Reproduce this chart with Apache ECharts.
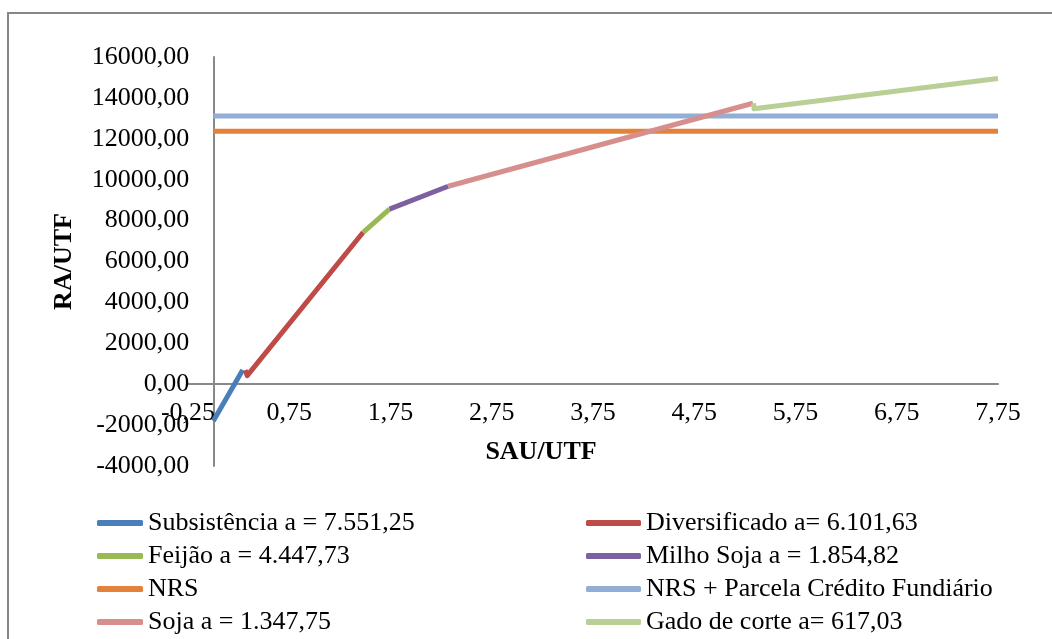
<!DOCTYPE html>
<html lang="pt">
<head>
    <meta charset="utf-8">
    <title>RA/UTF x SAU/UTF</title>
    <script type="text/javascript" src="https://cdn.jsdelivr.net/npm/echarts@6/dist/echarts.min.js"></script>
    <style>
        html, body { margin: 0; padding: 0; background: #fff; }
        #chart { width: 1052px; height: 639px; }
    </style>
</head>
<body>
<div id="chart"></div>
<script type="text/javascript">
    // eixos
    var xTicks = [-0.25, 0.75, 1.75, 2.75, 3.75, 4.75, 5.75, 6.75, 7.75];
    var yTicks = [-4000, -2000, 0, 2000, 4000, 6000, 8000, 10000, 12000, 14000, 16000];

    // segmentos [SAU/UTF, RA/UTF]
    var subsistencia = [[0, -1800], [0.29, 690]];
    var diversificado = [[0.315, 690], [0.335, 420], [1.48, 7430]];
    var feijao = [[1.48, 7430], [1.74, 8560]];
    var milhoSoja = [[1.74, 8560], [2.32, 9680]];
    var nrs = [[0, 12370], [7.75, 12370]];
    var nrsParcela = [[0, 13110], [7.75, 13110]];
    var soja = [[2.32, 9680], [5.33, 13740]];
    var gado = [[5.335, 13740], [5.34, 13470], [7.75, 14950]];

    var names = [
        'Subsistência a = 7.551,25',
        'Diversificado a= 6.101,63',
        'Feijão a = 4.447,73',
        'Milho Soja a = 1.854,82',
        'NRS',
        'NRS + Parcela Crédito Fundiário',
        'Soja a = 1.347,75',
        'Gado de corte a= 617,03'
    ];
    var colors = ['#4A7EBB', '#BE4B48', '#98B954', '#7D60A0', '#E3823B', '#93AED4', '#D68F8D', '#B9CF96'];
    var seriesData = [subsistencia, diversificado, feijao, milhoSoja, nrs, nrsParcela, soja, gado];

    var font = 'Liberation Serif';

    // area do grafico
    var grid = { left: 188, right: 54, top: 57, bottom: 173 };
    var gridW = 1052 - grid.left - grid.right;
    var gridH = 639 - grid.top - grid.bottom;
    var xMin = xTicks[0], xMax = xTicks[xTicks.length - 1];
    var yMin = yTicks[0], yMax = yTicks[yTicks.length - 1];
    // eixos cruzam em zero (rotulos acompanham a linha do eixo)
    var xAxisOffset = -gridH * (0 - yMin) / (yMax - yMin);
    var yAxisOffset = -gridW * (0 - xMin) / (xMax - xMin);

    function fmt(v) {
        return v.toFixed(2).replace('.', ',');
    }

    var series = [];
    for (var i = 0; i < seriesData.length; i++) {
        series.push({
            name: names[i],
            type: 'line',
            data: seriesData[i],
            color: colors[i],
            symbol: 'none',
            lineStyle: { width: 5, color: colors[i], join: 'round' }
        });
    }

    var legendText = { fontFamily: font, fontSize: 26, color: '#000', lineHeight: 26 };

    var chart = echarts.init(document.getElementById('chart'), null, { renderer: 'canvas' });
    chart.setOption({
        animation: false,
        backgroundColor: '#fff',
        graphic: [{
            type: 'rect',
            shape: { x: 8, y: 13, width: 1200, height: 800 },
            style: { fill: 'none', stroke: '#878787', lineWidth: 2 },
            silent: true
        }],
        grid: { left: grid.left, right: grid.right, top: grid.top, bottom: grid.bottom, outerBoundsMode: 'none' },
        xAxis: {
            type: 'value',
            min: xMin,
            max: xMax,
            interval: xTicks[1] - xTicks[0],
            offset: xAxisOffset,
            name: 'SAU/UTF',
            nameLocation: 'middle',
            nameGap: 55,
            nameTextStyle: { fontFamily: font, fontSize: 26, fontWeight: 'bold', color: '#000', padding: [0, 104, 0, 0] },
            axisLine: { onZero: false, lineStyle: { color: '#898989', width: 2 } },
            axisTick: { show: false },
            splitLine: { show: false },
            axisLabel: { fontFamily: font, fontSize: 26, color: '#000', margin: 16, formatter: fmt }
        },
        yAxis: {
            type: 'value',
            min: yMin,
            max: yMax,
            interval: yTicks[1] - yTicks[0],
            offset: yAxisOffset,
            name: 'RA/UTF',
            nameLocation: 'middle',
            nameGap: 136,
            nameRotate: 90,
            nameTextStyle: { fontFamily: font, fontSize: 26, fontWeight: 'bold', color: '#000' },
            axisLine: { show: true, onZero: false, lineStyle: { color: '#898989', width: 2 } },
            axisTick: { show: false },
            splitLine: { show: false },
            axisLabel: { fontFamily: font, fontSize: 26, color: '#000', margin: 24, formatter: fmt }
        },
        legend: [{
            left: 97,
            top: 510,
            height: 130,
            padding: 0,
            orient: 'vertical',
            icon: 'roundRect',
            itemWidth: 46,
            itemHeight: 6,
            itemGap: 7,
            data: [names[0], names[2], names[4], names[6]],
            textStyle: legendText
        }, {
            left: 586,
            top: 510,
            height: 130,
            padding: 0,
            orient: 'vertical',
            icon: 'roundRect',
            itemWidth: 55,
            itemHeight: 6,
            itemGap: 7,
            data: [names[1], names[3], names[5], names[7]],
            textStyle: legendText
        }],
        series: series
    });
</script>
</body>
</html>
